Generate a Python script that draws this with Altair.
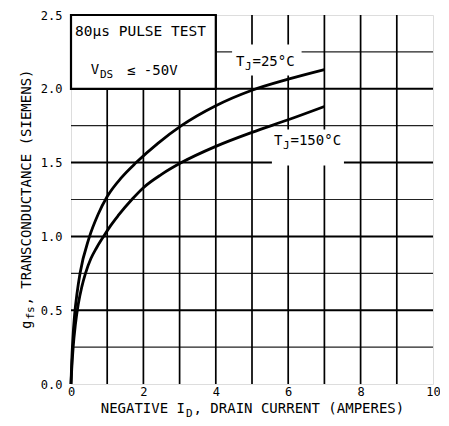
import altair as alt
import pandas as pd

# ---- data ----
id_25 = [0, 0.02, 0.05, 0.1, 0.17, 0.25, 0.5, 0.75, 1.0, 1.4, 1.8, 2.4, 3.05, 4.0, 5.0, 6.0, 7.0]
gfs_25 = [0, 0.15, 0.3, 0.47, 0.62, 0.75, 0.99, 1.15, 1.27, 1.4, 1.5, 1.63, 1.75, 1.885, 1.99, 2.065, 2.13]
id_150 = [0, 0.02, 0.06, 0.12, 0.2, 0.3, 0.4, 0.55, 0.7, 0.9, 1.1, 1.3, 1.7, 2.0, 2.5, 3.05, 4.0, 5.0, 6.0, 7.0]
gfs_150 = [0, 0.1, 0.25, 0.4, 0.54, 0.66, 0.75, 0.85, 0.92, 1.0, 1.075, 1.14, 1.255, 1.33, 1.42, 1.5, 1.61, 1.705, 1.79, 1.88]

x_ticks = [0, 2, 4, 6, 8, 10]
y_ticks = [0.0, 0.5, 1.0, 1.5, 2.0, 2.5]
x_grid = [1, 2, 3, 4, 5, 6, 7, 8, 9]
y_grid_major = [0.5, 1.0, 1.5, 2.0]
y_grid_minor = [0.25, 0.75, 1.25, 1.75, 2.25]

# boxes (data units): note box, label backgrounds
note_box = {"x": 0, "x2": 4, "y": 2.0, "y2": 2.5}
bg_25 = {"x": 4.45, "x2": 6.37, "y": 2.09, "y2": 2.30}
bg_150 = {"x": 5.55, "x2": 7.54, "y": 1.48, "y2": 1.724}

FONT = "DejaVu Sans Mono"
W, H = 362, 369

xs = alt.Scale(domain=[0, 10], nice=False, zero=False)
ys = alt.Scale(domain=[0, 2.5], nice=False, zero=False)
xaxis = alt.Axis(values=x_ticks, format="d", ticks=False, domain=False, grid=False,
                 labelFont=FONT, labelFontSize=12, labelColor="black", labelPadding=2,
                 labelFlush=False, labelOverlap=False, title=None)
yaxis = alt.Axis(values=y_ticks, format=".1f", ticks=False, domain=False, grid=False,
                 labelFont=FONT, labelFontSize=12, labelColor="black", labelPadding=9,
                 labelOverlap=False, title=None)


def X(f):
    return alt.X(f, type="quantitative", scale=xs, axis=xaxis)


def Y(f):
    return alt.Y(f, type="quantitative", scale=ys, axis=yaxis)


vgrid = alt.Chart(pd.DataFrame({"x": x_grid})).mark_rule(color="black", strokeWidth=1.7).encode(x=X("x"))
hgrid_major = alt.Chart(pd.DataFrame({"y": y_grid_major})).mark_rule(color="black", strokeWidth=2).encode(y=Y("y"))
hgrid_minor = alt.Chart(pd.DataFrame({"y": y_grid_minor})).mark_rule(color="#222", strokeWidth=1.2).encode(y=Y("y"))

rects = alt.Chart(pd.DataFrame([bg_25, bg_150])).mark_rect(fill="white").encode(
    x=X("x"), x2="x2", y=Y("y"), y2="y2")
box = alt.Chart(pd.DataFrame([note_box])).mark_rect(fill="white", stroke="black", strokeWidth=2.2).encode(
    x=X("x"), x2="x2", y=Y("y"), y2="y2")

curves_df = pd.concat([
    pd.DataFrame({"id": id_25, "gfs": gfs_25, "s": "25", "i": range(len(id_25))}),
    pd.DataFrame({"id": id_150, "gfs": gfs_150, "s": "150", "i": range(len(id_150))}),
])
curves = alt.Chart(curves_df).mark_line(color="black", strokeWidth=2.8, interpolate="monotone").encode(
    x=X("id"), y=Y("gfs"), detail="s:N", order="i:Q")


def label(text, px, py, size=14, align="left", angle=0):
    return alt.Chart(pd.DataFrame({"t": [text]})).mark_text(
        font=FONT, fontSize=size, align=align, baseline="middle", angle=angle, color="black"
    ).encode(x=alt.value(px), y=alt.value(py), text="t:N")


texts = [
    label("80μs PULSE TEST", 69.5, 17, 14.5, "center"),
    label("V", 19.7, 54.5, 14),
    label("DS", 29, 59.5, 11),
    label("≤ -50V", 56, 55.5, 14),
    label("T", 165, 47, 14),
    label("J", 174, 51.5, 11),
    label("=25°C", 181.5, 47, 14),
    label("T", 203, 125.5, 14),
    label("J", 212, 130.5, 11),
    label("=150°C", 219.5, 125.5, 14),
    # x title
    label("NEGATIVE I", 29.7, 393.5, 14),
    label("D", 115, 398.5, 11),
    label(", DRAIN CURRENT  (AMPERES)", 122.5, 393.5, 14),
    # y title
    label("g", -44, 314, 14, "left", 270),
    label("fs", -40, 304.5, 11, "left", 270),
    label(", TRANSCONDUCTANCE  (SIEMENS)", -44, 290.5, 14, "left", 270),
]

chart = alt.layer(hgrid_minor, hgrid_major, vgrid, rects, box, curves, *texts).properties(
    width=W, height=H,
    autosize=alt.AutoSizeParams(type="none"),
    padding={"left": 63, "top": 7, "right": 7, "bottom": 34},
).configure_view(stroke="black", strokeWidth=2.5).configure(background="white")

chart.save("out.html", embed_options={"renderer": "svg", "actions": False})
